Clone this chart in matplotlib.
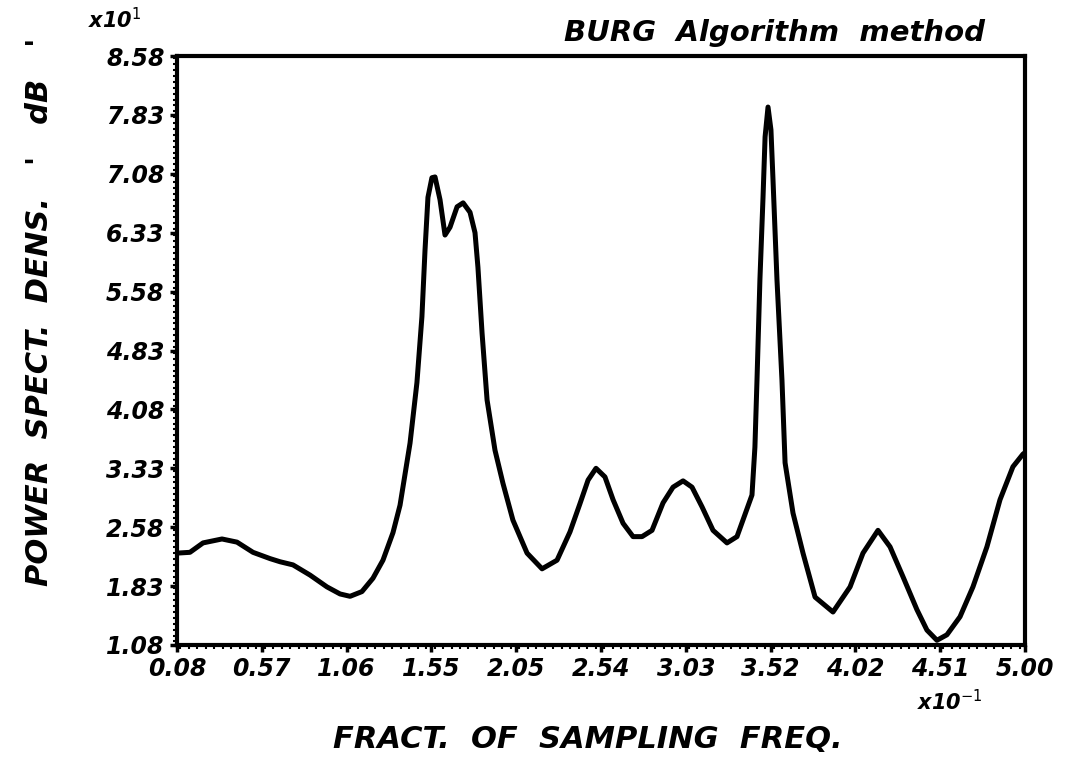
import numpy as np
import matplotlib
matplotlib.use("Agg")
import matplotlib.pyplot as plt
from matplotlib.ticker import MultipleLocator, FixedLocator

# values (x in units of 1e-1, y in units of 1e1)
freq = [0.080, 0.155, 0.231, 0.341, 0.428, 0.521, 0.620, 0.678, 0.753, 0.852,
        0.950, 1.026, 1.084, 1.153, 1.217, 1.275, 1.333, 1.374, 1.432, 1.472,
        1.501, 1.519, 1.536, 1.559, 1.577, 1.606, 1.635, 1.664, 1.705, 1.740,
        1.780, 1.809, 1.826, 1.850, 1.879, 1.925, 1.971, 2.029, 2.111, 2.198,
        2.285, 2.360, 2.418, 2.465, 2.511, 2.563, 2.610, 2.668, 2.726, 2.778,
        2.836, 2.900, 2.958, 3.016, 3.068, 3.126, 3.190, 3.271, 3.329, 3.375,
        3.416, 3.433, 3.445, 3.462, 3.480, 3.492, 3.509, 3.526, 3.538, 3.561,
        3.590, 3.608, 3.654, 3.712, 3.782, 3.886, 3.985, 4.060, 4.147, 4.217,
        4.292, 4.373, 4.431, 4.489, 4.547, 4.623, 4.698, 4.779, 4.855, 4.930,
        4.988, 5.000]
psd = [2.25, 2.26, 2.38, 2.43, 2.39, 2.26, 2.18, 2.14, 2.10, 1.97,
       1.82, 1.73, 1.70, 1.76, 1.93, 2.16, 2.51, 2.86, 3.65, 4.42,
       5.26, 6.11, 6.78, 7.03, 7.04, 6.75, 6.30, 6.40, 6.66, 6.71,
       6.59, 6.33, 5.89, 5.05, 4.20, 3.56, 3.14, 2.67, 2.25, 2.05,
       2.16, 2.52, 2.88, 3.18, 3.33, 3.22, 2.93, 2.63, 2.46, 2.46,
       2.54, 2.89, 3.09, 3.17, 3.09, 2.84, 2.54, 2.38, 2.46, 2.74,
       2.99, 3.60, 4.45, 5.73, 6.78, 7.55, 7.93, 7.64, 7.00, 5.73,
       4.45, 3.40, 2.76, 2.25, 1.69, 1.50, 1.82, 2.25, 2.54, 2.33,
       1.95, 1.53, 1.27, 1.14, 1.21, 1.44, 1.82, 2.33, 2.93, 3.35,
       3.51, 3.53]

xticks = [0.08, 0.572, 1.064, 1.556, 2.048, 2.54, 3.032, 3.524, 4.016, 4.508, 5.00]
xlabels = ["0.08", "0.57", "1.06", "1.55", "2.05", "2.54", "3.03", "3.52", "4.02", "4.51", "5.00"]
yticks = [1.08, 1.83, 2.58, 3.33, 4.08, 4.83, 5.58, 6.33, 7.08, 7.83, 8.58]
ylabels = ["1.08", "1.83", "2.58", "3.33", "4.08", "4.83", "5.58", "6.33", "7.08", "7.83", "8.58"]

font = dict(family="DejaVu Sans", weight="bold", style="italic")

fig = plt.figure(figsize=(10.77, 7.57), dpi=100)
ax = fig.add_axes([177/1077, 1 - 645/757, 848/1077, 589/757])

ax.plot(freq, psd, color="black", lw=3.6, solid_joinstyle="round", solid_capstyle="round")

ax.set_xlim(0.08, 5.00)
ax.set_ylim(1.08, 8.58)
ax.xaxis.set_major_locator(FixedLocator(xticks))
ax.yaxis.set_major_locator(FixedLocator(yticks))
ax.xaxis.set_minor_locator(MultipleLocator(0.0492))
ax.yaxis.set_minor_locator(MultipleLocator(0.075))
ax.set_xticklabels(xlabels, fontsize=17, **font)
ax.set_yticklabels(ylabels, fontsize=17, **font)
ax.tick_params(which="major", direction="out", length=5, width=2.5, pad=4)
ax.tick_params(which="minor", direction="out", length=3, width=1.5)
for s in ax.spines.values():
    s.set_linewidth(3)

fig.text(985/1077, 1 - 33/757, "BURG  Algorithm  method", ha="right", va="center",
         fontsize=21, **font)
fig.text(115/1077, 1 - 20/757, r"x10$^{1}$", ha="center", va="center", fontsize=15, **font)
fig.text(950/1077, 1 - 702/757, r"x10$^{-1}$", ha="center", va="center", fontsize=15, **font)
fig.text(588/1077, 1 - 740/757, "FRACT.  OF  SAMPLING  FREQ.", ha="center", va="center",
         fontsize=22, **font)
fig.text(40/1077, 1 - 312/757, "POWER  SPECT.  DENS.   '   dB   '", ha="center", va="center",
         rotation=90, fontsize=22, **font)

fig.savefig("out.png", dpi=100)
